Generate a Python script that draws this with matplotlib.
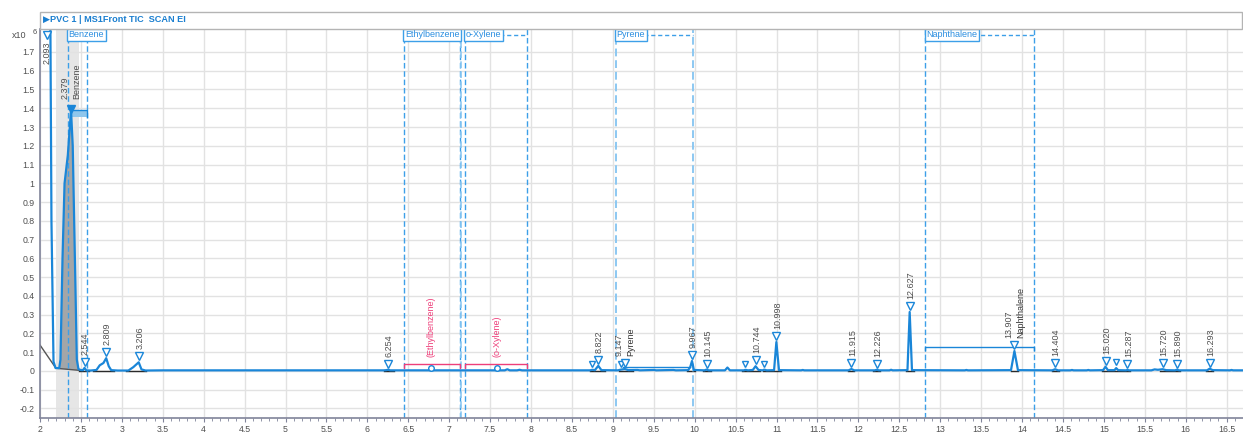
import matplotlib
matplotlib.use("Agg")
import matplotlib.pyplot as plt
from matplotlib.patches import Rectangle, Polygon
from matplotlib.transforms import blended_transform_factory, offset_copy

# ---- chromatogram trace (retention time in min, signal in 1e6 counts) ----
trace_time = [
    2.000, 2.093, 2.125, 2.140, 2.165, 2.190, 2.235, 2.250, 2.275, 2.300,
    2.340, 2.379, 2.400, 2.430, 2.450, 2.470, 2.500, 2.525, 2.544, 2.565,
    2.620, 2.690, 2.730, 2.775, 2.809, 2.840, 2.870, 2.950, 3.080, 3.140,
    3.206, 3.240, 3.290, 3.500, 4.400, 5.200, 6.200, 6.230, 6.254, 6.280,
    6.700, 7.300, 7.680, 7.710, 7.740, 7.830, 7.860, 7.890, 8.400, 8.720,
    8.750, 8.780, 8.822, 8.860, 9.060, 9.100, 9.147, 9.190, 9.300, 9.330,
    9.500, 9.530, 9.740, 9.770, 9.920, 9.945, 9.967, 9.990, 10.120, 10.145,
    10.170, 10.370, 10.400, 10.430, 10.600, 10.620, 10.650, 10.710, 10.744, 10.780,
    10.830, 10.850, 10.880, 10.970, 10.998, 11.030, 11.300, 11.320, 11.340, 11.880,
    11.915, 11.950, 12.200, 12.226, 12.250, 12.380, 12.400, 12.420, 12.600, 12.627,
    12.655, 13.300, 13.320, 13.340, 13.865, 13.907, 13.950, 14.370, 14.404, 14.440,
    14.590, 14.610, 14.630, 14.790, 14.810, 14.830, 14.990, 15.020, 15.050, 15.130,
    15.150, 15.175, 15.270, 15.287, 15.310, 15.580, 15.620, 15.660, 15.720, 15.760,
    15.870, 15.890, 15.920, 16.260, 16.293, 16.330, 16.540, 16.560, 16.580, 16.700,
]
trace_signal = [
    2.400, 2.600, 2.000, 0.800, 0.050, 0.015, 0.015, 0.060, 0.600, 1.000,
    1.150, 1.390, 1.200, 0.500, 0.060, 0.010, 0.004, 0.004, 0.016, 0.003,
    0.002, 0.005, 0.030, 0.042, 0.068, 0.025, 0.004, 0.002, 0.002, 0.020,
    0.046, 0.008, 0.002, 0.003, 0.003, 0.003, 0.003, 0.004, 0.006, 0.003,
    0.003, 0.003, 0.003, 0.009, 0.003, 0.003, 0.006, 0.003, 0.003, 0.003,
    0.006, 0.004, 0.027, 0.004, 0.003, 0.007, 0.010, 0.004, 0.005, 0.003,
    0.005, 0.003, 0.005, 0.003, 0.004, 0.020, 0.053, 0.005, 0.003, 0.007,
    0.003, 0.003, 0.018, 0.003, 0.003, 0.006, 0.003, 0.005, 0.025, 0.005,
    0.003, 0.007, 0.003, 0.004, 0.154, 0.004, 0.003, 0.005, 0.003, 0.003,
    0.010, 0.003, 0.003, 0.006, 0.003, 0.003, 0.006, 0.003, 0.004, 0.314,
    0.004, 0.003, 0.005, 0.003, 0.004, 0.106, 0.004, 0.003, 0.009, 0.003,
    0.003, 0.005, 0.003, 0.003, 0.005, 0.003, 0.004, 0.022, 0.004, 0.004,
    0.015, 0.004, 0.003, 0.005, 0.003, 0.003, 0.008, 0.006, 0.009, 0.004,
    0.003, 0.006, 0.003, 0.003, 0.012, 0.004, 0.003, 0.005, 0.003, 0.003,
]

# ---- detected peaks with retention-time labels ----
peak_rt = [2.544, 2.809, 3.206, 6.254, 8.822, 9.967, 10.145, 10.744, 10.998,
           11.915, 12.226, 12.627, 14.404, 15.020, 15.287, 15.720, 15.890, 16.293]
peak_height = [0.016, 0.068, 0.046, 0.006, 0.027, 0.053, 0.007, 0.025, 0.154,
               0.010, 0.006, 0.314, 0.009, 0.022, 0.005, 0.009, 0.006, 0.012]
peak_text = ["2.544", "2.809", "3.206", "6.254", "8.822", "9.967", "10.145", "10.744",
             "10.998", "11.915", "12.226", "12.627", "14.404", "15.020", "15.287",
             "15.720", "15.890", "16.293"]

# unlabeled detected peaks
minor_rt = [8.750, 9.100, 10.620, 10.850, 15.150]
minor_height = [0.006, 0.007, 0.006, 0.007, 0.015]

# identified compounds (peak rt, apex, rt label, name)
ident_rt = [9.147, 13.907]
ident_height = [0.010, 0.106]
ident_text = ["9.147", "13.907"]
ident_name = ["Pyrene", "Naphthalene"]

# compound retention windows and names
window_name = ["Benzene", "Ethylbenzene", "o-Xylene", "Pyrene", "Naphthalene"]
window_start = [2.338, 6.448, 7.193, 9.034, 12.820]
window_end = [2.578, 7.132, 7.954, 9.983, 14.150]

# expected (not found) compounds
expected_name = ["(Ethylbenzene)", "(o-Xylene)"]
expected_rt = [6.777, 7.580]
expected_level = [0.035, 0.035]

# integration baselines below detected peaks
base_start = [2.48, 2.65, 3.05, 6.20, 8.72, 9.08, 9.90, 10.10, 10.58, 10.83,
              11.87, 12.18, 12.58, 13.86, 14.36, 14.98, 15.68, 16.25]
base_end = [2.60, 2.90, 3.30, 6.32, 8.90, 9.25, 10.00, 10.20, 10.80, 11.05,
            11.95, 12.26, 12.68, 13.95, 14.45, 15.32, 15.93, 16.33]

y_ticks = [-0.2, -0.1, 0, 0.1, 0.2, 0.3, 0.4, 0.5, 0.6, 0.7, 0.8, 0.9, 1.0,
           1.1, 1.2, 1.3, 1.4, 1.5, 1.6, 1.7]
x_ticks = [2, 2.5, 3, 3.5, 4, 4.5, 5, 5.5, 6, 6.5, 7, 7.5, 8, 8.5, 9, 9.5, 10,
           10.5, 11, 11.5, 12, 12.5, 13, 13.5, 14, 14.5, 15, 15.5, 16, 16.5]

BLUE = "#1a86d8"
DASH = "#3d9fe8"
GRAY_TXT = "#505050"
PINK = "#ee3f7a"
FONT = ["Liberation Sans", "DejaVu Sans"]
plt.rcParams["font.family"] = FONT

W, H = 1243, 432
fig = plt.figure(figsize=(W / 100, H / 100), dpi=100)
ax = fig.add_axes([40 / W, 14 / H, 1203 / W, (418 - 28.5) / H])
ax.set_xlim(2.0, 16.70)
ax.set_ylim(-0.251, 1.825)

# grid and axes styling
ax.set_xticks(x_ticks)
ax.set_xticklabels([("%g" % v) for v in x_ticks])
ax.set_xticks([2 + 0.1 * i for i in range(148)], minor=True)
ax.set_yticks(y_ticks)
ax.set_yticklabels([("%g" % v) for v in y_ticks])
ax.grid(True, which="major", color="#e2e2e2", lw=1, zorder=0)
ax.set_axisbelow(True)
for s in ("top", "right"):
    ax.spines[s].set_visible(False)
for s in ("left", "bottom"):
    ax.spines[s].set_color("#80849a")
    ax.spines[s].set_linewidth(1.2)
ax.tick_params(axis="y", length=0, pad=4, labelsize=6.3, labelcolor=GRAY_TXT)
ax.tick_params(axis="x", which="major", length=3, pad=2, labelsize=6.3,
               labelcolor=GRAY_TXT, color="#80849a")
ax.tick_params(axis="x", which="minor", length=2, color="#80849a")

# selected benzene region band
ax.axvspan(2.196, 2.477, color="#e6e6e6", zorder=0.5, lw=0)

# integration fill of the benzene peak
fill_pts = [(2.190, 0.015)] + [(t, s) for t, s in zip(trace_time, trace_signal)
                                if 2.19 <= t <= 2.47] + [(2.470, 0.004)]
ax.add_patch(Polygon(fill_pts, closed=True, facecolor="#a3a6a8", edgecolor="none",
                     zorder=1))
ax.plot([2.0, 2.195, 2.48], [0.138, 0.014, 0.003], color="#555555", lw=1, zorder=1.2)

# integration baselines
for a, b in zip(base_start, base_end):
    ax.plot([a, b], [0.0, 0.0], color="#2a2a2a", lw=1, zorder=1.5)

# retention windows
for name, a, b in zip(window_name, window_start, window_end):
    light = name == "Pyrene"
    for xv in (a, b):
        ax.axvline(xv, color="#8cc8f2" if light else DASH, lw=1.4 if light else 1.0,
                   ls=(0, (4, 2)), zorder=2)
ax.axvline(7.147, color="#8cc8f2", lw=1.2, ls=(0, (4, 2)), zorder=2)

# window captions with dashed top edge
ytop = blended_transform_factory(ax.transData, ax.transAxes)
cap_y = 1 - 6.2 / 389.5
for name, a, b in zip(window_name, window_start, window_end):
    ax.plot([a, b], [cap_y, cap_y], transform=ytop, color=DASH, lw=1,
            ls=(0, (3, 2)), zorder=3, clip_on=False)
    ax.text(a + 0.012, 1 - 1.8 / 389.5, name, transform=ytop, ha="left", va="top",
            fontsize=6.5, color="#2a8ee0", zorder=4,
            bbox=dict(boxstyle="square,pad=0.18", fc="white", ec=DASH, lw=1))

# trace
ax.plot(trace_time, trace_signal, color=BLUE, lw=1.6, zorder=5, solid_joinstyle="round")

# benzene identification marker
ax.add_patch(Rectangle((2.37, 1.355), 0.208, 0.035, facecolor="#8fc6ec",
                       edgecolor="none", zorder=4))
ax.plot([2.37, 2.578, 2.578], [1.39, 1.39, 1.355], color=BLUE, lw=1, zorder=4)
ax.plot([2.379], [1.395], marker="v", ms=6, color=BLUE, zorder=6)
ax.annotate("2.379", xy=(2.379, 1.39), xytext=(-6, 11), textcoords="offset pixels",
            rotation=90, ha="center", va="bottom", fontsize=6.5, color=GRAY_TXT)
ax.annotate("Benzene", xy=(2.379, 1.39), xytext=(6, 11), textcoords="offset pixels",
            rotation=90, ha="center", va="bottom", fontsize=6.5, color=GRAY_TXT)

# off-scale first peak
ax.plot([2.085], [1.79], marker="v", ms=5.5, mfc="white", mec=BLUE, mew=1, zorder=6,
        clip_on=False)
ax.annotate("2.093", xy=(2.085, 1.79), xytext=(0, -6), textcoords="offset pixels",
            rotation=90, ha="center", va="top", fontsize=6.5, color=GRAY_TXT)

# detected peak markers
mk_tr = offset_copy(ax.transData, fig=fig, x=0, y=6, units="dots")
ax.plot(peak_rt, peak_height, ls="none", marker="v", ms=5.5, mfc="white", mec=BLUE,
        mew=1, transform=mk_tr, zorder=6)
ax.plot(minor_rt, minor_height, ls="none", marker="v", ms=5, mfc="white", mec=BLUE,
        mew=1, transform=mk_tr, zorder=6)
for t, h, s in zip(peak_rt, peak_height, peak_text):
    ax.annotate(s, xy=(t, h), xytext=(1, 13), textcoords="offset pixels", rotation=90,
                ha="center", va="bottom", fontsize=6.5, color=GRAY_TXT)

# identified compounds: marker, rt and name
ax.plot(ident_rt, ident_height, ls="none", marker="v", ms=5.5, mfc="white", mec=BLUE,
        mew=1, transform=mk_tr, zorder=6)
for t, h, s, n in zip(ident_rt, ident_height, ident_text, ident_name):
    ax.annotate(s, xy=(t, h), xytext=(-6, 13), textcoords="offset pixels", rotation=90,
                ha="center", va="bottom", fontsize=6.5, color=GRAY_TXT)
    ax.annotate(n, xy=(t, h), xytext=(6, 13), textcoords="offset pixels", rotation=90,
                ha="center", va="bottom", fontsize=6.5, color="#333333")

# reference levels for identified compounds
ax.plot([9.13, 9.94], [0.022, 0.022], color=BLUE, lw=1, zorder=4)
ax.plot([12.82, 12.82, 14.15, 14.15], [0.112, 0.126, 0.126, 0.112], color=BLUE, lw=1,
        zorder=4)

# expected but missing compounds
for name, t, lv, i in zip(expected_name, expected_rt, expected_level, range(2)):
    a = window_start[1 + i]
    b = window_end[1 + i]
    ax.plot([a, a, b, b], [lv - 0.02, lv, lv, lv - 0.02], color=PINK, lw=1, zorder=4)
    ax.plot([t], [0.015], marker="o", ms=4, mfc="white", mec=BLUE, mew=1, zorder=6)
    ax.annotate(name, xy=(t, lv), xytext=(0, 7), textcoords="offset pixels",
                rotation=90, ha="center", va="bottom", fontsize=6.5, color=PINK)

# exponent label
fig.text(12 / W, 1 - 36 / H, "x10", fontsize=6.5, color=GRAY_TXT, va="center",
         ha="left")
fig.text(33 / W, 1 - 32 / H, "6", fontsize=5.5, color=GRAY_TXT, va="center",
         ha="left")

# header bar
fig.patches.append(Rectangle((40 / W, 1 - 28.5 / H), 1202 / W, 16.5 / H,
                             transform=fig.transFigure, facecolor="white",
                             edgecolor="#b4b4b4", lw=1))
fig.text(43 / W, 1 - 20 / H, "\u25b6PVC 1 | MS1Front TIC  SCAN EI", fontsize=6.6,
         fontweight="bold", color="#1a7fd0", va="center", ha="left",
         family=["Liberation Sans", "DejaVu Sans"])

fig.savefig("out.png", dpi=100)
